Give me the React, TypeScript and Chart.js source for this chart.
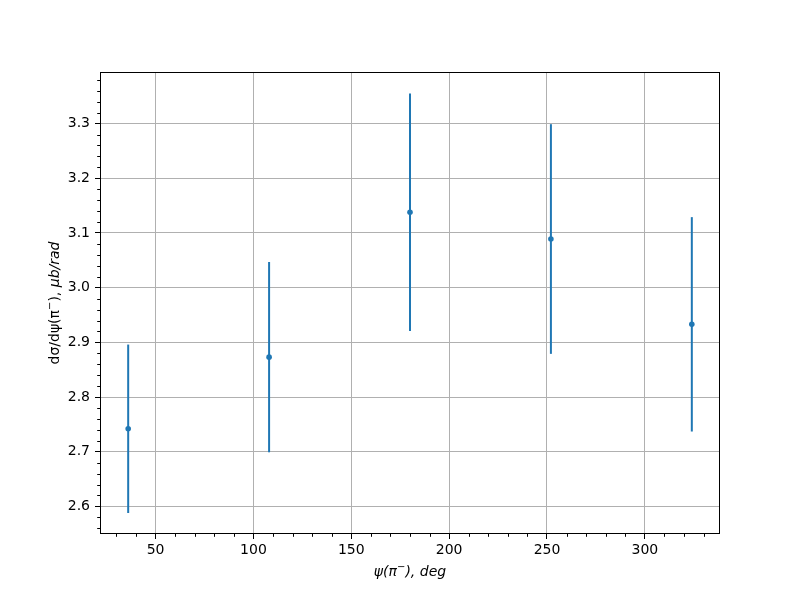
import React, { useEffect, useRef } from "react";
import { Chart, registerables } from "chart.js";

Chart.register(...registerables);

const xValues = [36, 108, 180, 252, 324];
const yValues = [2.742, 2.873, 3.138, 3.089, 2.933];
const yErrors = [0.154, 0.174, 0.217, 0.21, 0.196];

const xTickValues = [50, 100, 150, 200, 250, 300];
const yTickValues = [2.6, 2.7, 2.8, 2.9, 3.0, 3.1, 3.2, 3.3];
const xMinorStep = 10;
const yMinorStep = 0.02;

const xRange = [21.6, 338.4];
const yRange = [2.5496, 3.3944];

const BLUE = "#1f77b4";
const FONT = "DejaVu Sans";

type Piece = { t: string; font: string; dy?: number };

function drawPieces(ctx: CanvasRenderingContext2D, pieces: Piece[], cx: number, cy: number) {
  let total = 0;
  const widths = pieces.map((p) => {
    ctx.font = p.font;
    const w = ctx.measureText(p.t).width;
    total += w;
    return w;
  });
  let x = cx - total / 2;
  ctx.textBaseline = "middle";
  ctx.textAlign = "left";
  pieces.forEach((p, i) => {
    ctx.font = p.font;
    ctx.fillText(p.t, x, cy + (p.dy || 0));
    x += widths[i];
  });
}

const extrasPlugin = {
  id: "extras",
  beforeDatasetsDraw(chart: any) {
    const ctx = chart.ctx as CanvasRenderingContext2D;
    const xs = chart.scales.x;
    const ys = chart.scales.y;
    const area = chart.chartArea;
    ctx.save();
    ctx.beginPath();
    ctx.rect(area.left, area.top, area.right - area.left, area.bottom - area.top);
    ctx.clip();
    ctx.strokeStyle = BLUE;
    ctx.lineWidth = 2;
    xValues.forEach((xv, i) => {
      const px = xs.getPixelForValue(xv);
      const top = ys.getPixelForValue(yValues[i] + yErrors[i]);
      const bot = ys.getPixelForValue(yValues[i] - yErrors[i]);
      ctx.beginPath();
      ctx.moveTo(px, top);
      ctx.lineTo(px, bot);
      ctx.stroke();
    });
    ctx.restore();
  },
  afterDraw(chart: any) {
    const ctx = chart.ctx as CanvasRenderingContext2D;
    const xs = chart.scales.x;
    const ys = chart.scales.y;
    const area = chart.chartArea;
    ctx.save();
    // frame
    const L = Math.round(area.left) + 0.5;
    const T = Math.round(area.top) + 0.5;
    const R = Math.round(area.right) - 0.5;
    const B = Math.round(area.bottom) - 0.5;
    ctx.strokeStyle = "#000";
    ctx.lineWidth = 1;
    ctx.strokeRect(L, T, R - L, B - T);
    // minor ticks
    ctx.beginPath();
    for (let v = Math.ceil(xRange[0] / xMinorStep) * xMinorStep; v <= xRange[1]; v += xMinorStep) {
      if (Math.abs(v % 50) < 1e-6) continue;
      const px = Math.round(xs.getPixelForValue(v)) + 0.5;
      ctx.moveTo(px, B);
      ctx.lineTo(px, B + 3.3);
    }
    for (let k = Math.ceil(yRange[0] / yMinorStep); k * yMinorStep <= yRange[1]; k++) {
      if (k % 5 === 0) continue;
      const py = Math.round(ys.getPixelForValue(k * yMinorStep)) + 0.5;
      ctx.moveTo(L, py);
      ctx.lineTo(L - 3.3, py);
    }
    ctx.stroke();
    // axis titles
    ctx.fillStyle = "#000";
    const cx = (area.left + area.right) / 2;
    drawPieces(
      ctx,
      [
        { t: "ψ(π", font: `italic 14px ${FONT}` },
        { t: "−", font: `italic 10px ${FONT}`, dy: -5 },
        { t: "), deg", font: `italic 14px ${FONT}` },
      ],
      cx,
      572
    );
    ctx.translate(55, (area.top + area.bottom) / 2);
    ctx.rotate(-Math.PI / 2);
    drawPieces(
      ctx,
      [
        { t: "dσ/dψ(π", font: `14px ${FONT}` },
        { t: "−", font: `10px ${FONT}`, dy: -5 },
        { t: "), ", font: `14px ${FONT}` },
        { t: "μb/rad", font: `italic 14px ${FONT}` },
      ],
      0,
      0
    );
    ctx.restore();
  },
};

export default function App() {
  const ref = useRef<HTMLCanvasElement | null>(null);
  useEffect(() => {
    if (!ref.current) return;
    const chart = new Chart(ref.current, {
      type: "scatter",
      data: {
        datasets: [
          {
            data: xValues.map((x, i) => ({ x, y: yValues[i] })),
            backgroundColor: BLUE,
            borderColor: BLUE,
            pointRadius: 2.8,
            pointBorderWidth: 0,
          },
        ],
      },
      options: {
        responsive: false,
        animation: false,
        layout: { padding: { left: 0, right: 80, top: 72, bottom: 0 } },
        plugins: { legend: { display: false }, tooltip: { enabled: false } },
        scales: {
          x: {
            type: "linear",
            min: xRange[0],
            max: xRange[1],
            afterBuildTicks: (s: any) => {
              s.ticks = xTickValues.map((v) => ({ value: v }));
            },
            afterFit: (s: any) => {
              s.height = 66;
            },
            grid: { color: "#b0b0b0", lineWidth: 1, tickColor: "#000", tickLength: 5, tickWidth: 1 },
            border: { display: false },
            ticks: {
              color: "#000",
              font: { family: FONT, size: 14 },
              padding: 3,
              maxRotation: 0,
              callback: (v: any) => String(v),
            },
          },
          y: {
            type: "linear",
            min: yRange[0],
            max: yRange[1],
            afterBuildTicks: (s: any) => {
              s.ticks = yTickValues.map((v) => ({ value: v }));
            },
            afterFit: (s: any) => {
              s.width = 100;
            },
            grid: { color: "#b0b0b0", lineWidth: 1, tickColor: "#000", tickLength: 5, tickWidth: 1 },
            border: { display: false },
            ticks: {
              color: "#000",
              font: { family: FONT, size: 14 },
              padding: 5,
              callback: (v: any) => Number(v).toFixed(1),
            },
          },
        },
      },
      plugins: [extrasPlugin],
    } as any);
    return () => chart.destroy();
  }, []);
  return (
    <div style={{ position: "absolute", left: 0, top: 0, width: 800, height: 600, background: "#fff" }}>
      <canvas ref={ref} width={800} height={600} style={{ width: 800, height: 600 }} />
    </div>
  );
}
